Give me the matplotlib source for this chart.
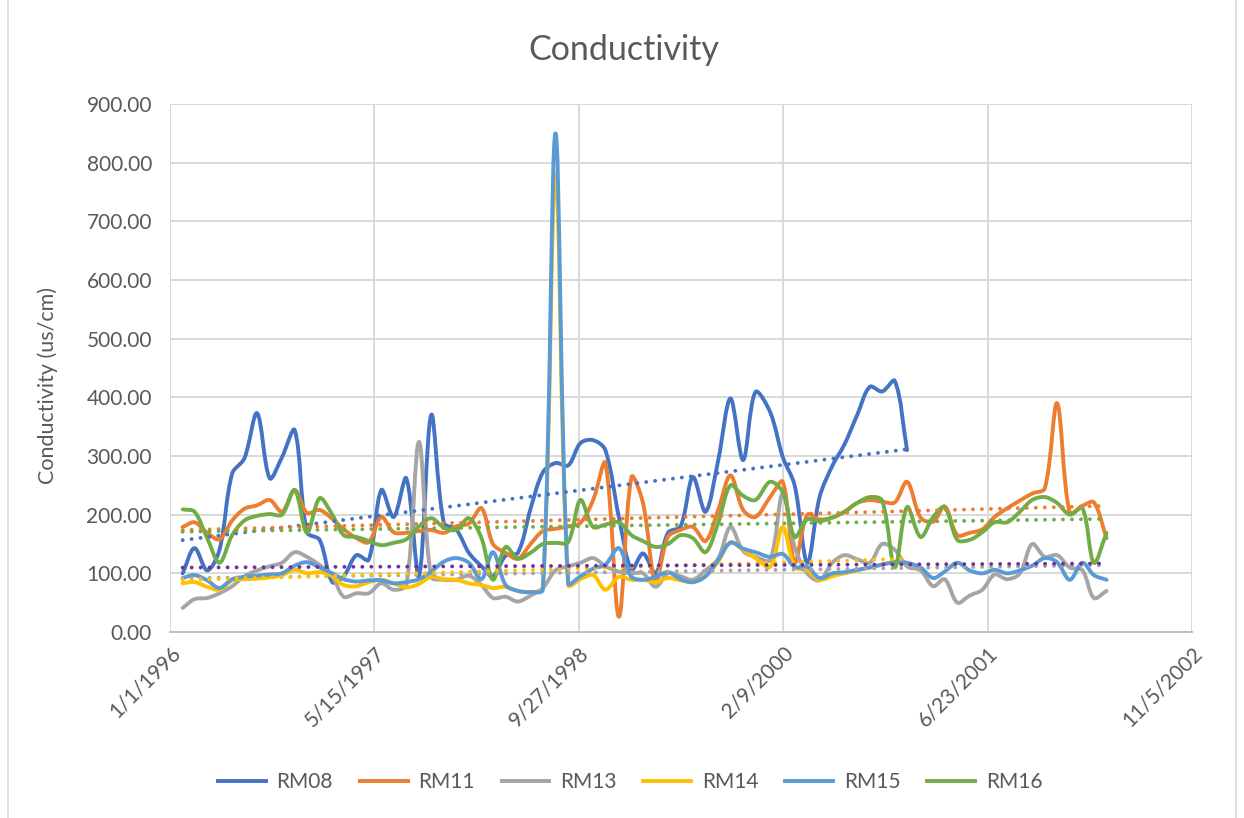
import numpy as np
import pandas as pd
import matplotlib
matplotlib.use('Agg')
import matplotlib.pyplot as plt
import matplotlib.dates as mdates
from matplotlib.path import Path
from matplotlib.patches import PathPatch
from matplotlib.lines import Line2D

plt.rcParams['font.family'] = ['Lato', 'DejaVu Sans']

# sampling dates (roughly monthly)
sample_dates = [
    '1996-02-01', '1996-03-01', '1996-04-01', '1996-05-01', '1996-06-01', '1996-07-01',
    '1996-08-01', '1996-09-01', '1996-10-01', '1996-11-01', '1996-12-01',
    '1997-01-01', '1997-02-01', '1997-03-01', '1997-04-01', '1997-05-01', '1997-06-01',
    '1997-07-01', '1997-08-01', '1997-09-01', '1997-10-01', '1997-11-01', '1997-12-01',
    '1998-01-01', '1998-02-01', '1998-03-01', '1998-04-01', '1998-05-01', '1998-06-01',
    '1998-07-01', '1998-08-01', '1998-09-01', '1998-10-01', '1998-11-01', '1998-12-01',
    '1999-01-03', '1999-02-03', '1999-03-03', '1999-04-03', '1999-05-03', '1999-06-03',
    '1999-07-03', '1999-08-03', '1999-09-03', '1999-10-03', '1999-11-03', '1999-12-03',
    '2000-01-08', '2000-02-08', '2000-03-08', '2000-04-08', '2000-05-08', '2000-06-08',
    '2000-07-08', '2000-08-08', '2000-09-08', '2000-10-08', '2000-11-08', '2000-12-08',
    '2001-01-10', '2001-02-10', '2001-03-10', '2001-04-10', '2001-05-10', '2001-06-10',
    '2001-07-10', '2001-08-10', '2001-09-10', '2001-10-10', '2001-11-10', '2001-12-10',
    '2002-01-10', '2002-02-10', '2002-03-10', '2002-04-10',
]

# conductivity (us/cm) per station; RM08 and RM14 stop in Dec 2000
rm08 = [100, 143, 105, 140, 270, 296, 373, 262, 298, 344, 170,
        157, 85, 95, 131, 123, 242, 196, 262, 95, 370, 186, 175,
        135, 112, 95, 130, 135, 210, 272, 288, 284, 322, 327, 310,
        196, 106, 134, 100, 169, 180, 264, 205, 293, 398, 293, 409,
        375, 298, 250, 118, 230, 283, 320, 370, 418, 410, 428, 310]
rm11 = [179, 187, 169, 158, 190, 210, 216, 225, 205, 242, 203,
        208, 193, 175, 160, 153, 196, 170, 169, 172, 174, 169, 180,
        185, 211, 150, 135, 125, 150, 172, 176, 180, 186, 225, 288,
        26, 264, 220, 85, 162, 174, 179, 155, 208, 267, 208, 196,
        230, 256, 118, 200, 192, 195, 205, 220, 225, 222, 221, 256,
        195, 188, 214, 165, 169, 175, 196, 211, 224, 236, 245, 390,
        203, 215, 221, 160]
rm13 = [41, 56, 58, 66, 78, 95, 105, 112, 118, 136, 128,
        114, 95, 60, 66, 66, 83, 72, 80, 324, 94, 89, 89,
        96, 80, 58, 60, 52, 62, 75, 105, 112, 118, 126, 112,
        103, 100, 100, 77, 100, 95, 89, 105, 125, 179, 138, 128,
        123, 237, 145, 100, 88, 118, 131, 124, 118, 150, 140, 112,
        105, 78, 90, 50, 62, 72, 98, 90, 100, 150, 128, 131,
        110, 105, 58, 70]
rm14 = [83, 85, 77, 72, 88, 90, 91, 93, 97, 106, 100,
        102, 95, 80, 78, 85, 89, 83, 76, 82, 94, 90, 89,
        83, 80, 75, 77, 70, 68, 75, 780, 80, 90, 97, 72,
        94, 89, 89, 85, 92, 88, 85, 95, 120, 153, 140, 126,
        111, 179, 111, 105, 89, 95, 100, 105, 110, 115, 119, 118]
rm15 = [92, 97, 88, 75, 90, 94, 96, 98, 100, 113, 119,
        110, 100, 90, 86, 88, 88, 83, 85, 90, 103, 120, 126,
        118, 90, 136, 80, 70, 68, 72, 850, 83, 95, 108, 115,
        143, 94, 89, 94, 102, 90, 85, 95, 123, 152, 142, 136,
        128, 133, 111, 111, 92, 100, 102, 106, 110, 115, 119, 118,
        110, 92, 103, 118, 105, 100, 106, 100, 105, 113, 126, 119,
        89, 118, 97, 89]
rm16 = [209, 205, 160, 118, 165, 190, 198, 201, 200, 242, 169,
        228, 200, 165, 162, 155, 148, 152, 158, 180, 194, 178, 174,
        194, 160, 89, 145, 125, 135, 150, 152, 153, 225, 179, 183,
        187, 165, 155, 145, 150, 165, 160, 136, 186, 250, 232, 225,
        256, 238, 162, 192, 189, 195, 205, 220, 230, 224, 110, 213,
        162, 196, 213, 157, 157, 170, 187, 187, 205, 225, 230, 220,
        200, 211, 118, 169]

series_names = ['RM08', 'RM11', 'RM13', 'RM14', 'RM15', 'RM16']
series_values = [rm08, rm11, rm13, rm14, rm15, rm16]
line_colors = ['#4472C4', '#ED7D31', '#A5A5A5', '#FFC000', '#5B9BD5', '#70AD47']
trend_colors = ['#4472C4', '#ED7D31', '#A5A5A5', '#FFC000', '#7030A0', '#70AD47']

tick_dates = ['1996-01-01', '1997-05-15', '1998-09-27', '2000-02-09', '2001-06-23', '2002-11-05']
tick_labels = ['1/1/1996', '5/15/1997', '9/27/1998', '2/9/2000', '6/23/2001', '11/5/2002']

TEXT = '#595959'
GRID = '#d9d9d9'
W, H = 1244, 818
LW = 2.8


def smooth_path(ax, xs, ys):
    """Excel-like smoothed line: cubic beziers with chord-scaled tangents, built in screen space."""
    pts = ax.transData.transform(np.column_stack([xs, ys]))
    n = len(pts)
    verts = [pts[0]]
    codes = [Path.MOVETO]
    for i in range(n - 1):
        p0 = pts[i - 1] if i > 0 else pts[i]
        p1, p2 = pts[i], pts[i + 1]
        p3 = pts[i + 2] if i + 2 < n else pts[i + 1]
        d01 = np.hypot(*(p1 - p0))
        d12 = np.hypot(*(p2 - p1))
        d23 = np.hypot(*(p3 - p2))
        c1 = p1 + (p2 - p0) * (d12 / (d01 + d12 + 1e-9)) / 3
        c2 = p2 - (p3 - p1) * (d12 / (d12 + d23 + 1e-9)) / 3
        verts += [c1, c2, p2]
        codes += [Path.CURVE4] * 3
    verts = ax.transData.inverted().transform(np.array(verts))
    return Path(verts, codes)


fig = plt.figure(figsize=(W / 100, H / 100), dpi=100)
ax = fig.add_axes([170 / W, 1 - 632 / H, (1192 - 170) / W, (632 - 104) / H])

xmin = mdates.date2num(pd.Timestamp(tick_dates[0]))
xmax = mdates.date2num(pd.Timestamp(tick_dates[-1]))
ax.set_xlim(xmin, xmax)
ax.set_ylim(0, 900)

ax.set_xticks(mdates.date2num(pd.to_datetime(tick_dates)))
ax.set_xticklabels(tick_labels, rotation=45, ha='right', va='top', rotation_mode='anchor')
yticks = list(range(0, 1000, 100))
ax.set_yticks(yticks)
ax.set_yticklabels([f'{v:.2f}' for v in yticks])
ax.tick_params(axis='both', length=0, labelsize=15, labelcolor=TEXT)
ax.tick_params(axis='y', pad=13)
ax.tick_params(axis='x', pad=8)

ax.grid(True, color=GRID, lw=1.4, zorder=0)
ax.set_axisbelow(True)
for side in ['top', 'right', 'left']:
    ax.spines[side].set_visible(False)
ax.spines['bottom'].set_color('#bfbfbf')
ax.spines['bottom'].set_linewidth(1.4)

x_all = mdates.date2num(pd.to_datetime(sample_dates))

handles = []
for name, vals, col in zip(series_names, series_values, line_colors):
    xs = x_all[:len(vals)]
    patch = PathPatch(smooth_path(ax, xs, vals), facecolor='none', edgecolor=col,
                      lw=LW, capstyle='round', joinstyle='round', zorder=3)
    ax.add_patch(patch)
    handles.append(Line2D([], [], color=col, lw=LW, label=name))

# linear trendlines, drawn over the series
for vals, col in zip(series_values, trend_colors):
    xs = x_all[:len(vals)]
    slope, icpt = np.polyfit(xs, vals, 1)
    ends = np.array([xs[0], xs[-1]])
    ax.plot(ends, slope * ends + icpt, color=col, lw=LW, linestyle=(0, (0.01, 2.3)),
            dash_capstyle='round', zorder=4)

ax.set_ylabel('Conductivity (us/cm)', fontsize=15.5, color=TEXT)
ax.yaxis.set_label_coords((58 - 170) / 1022, (632 - 386) / 528)

fig.text(624 / W, 1 - 50 / H, 'Conductivity', fontsize=24.5, color=TEXT, ha='center', va='center')

fig.legend(handles=handles, loc='center', bbox_to_anchor=(630 / W, 1 - 782 / H), ncol=6,
           frameon=False, fontsize=15, labelcolor=TEXT, handlelength=2.3,
           handletextpad=0.5, columnspacing=1.3)

# chart area border
for xb in [8, 1236]:
    fig.add_artist(Line2D([xb / W, xb / W], [0, 1], color=GRID, lw=1.2))

fig.savefig('out.png', dpi=100)
